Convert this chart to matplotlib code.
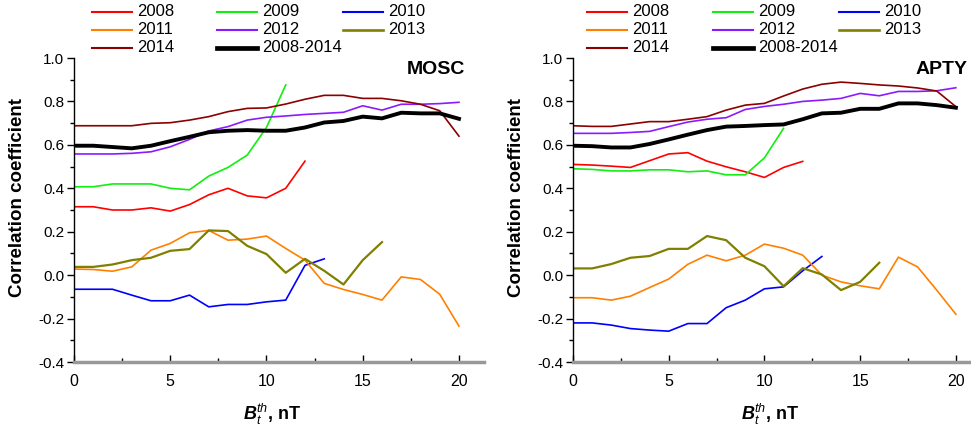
"""
Correlation coefficient vs B_t threshold, MOSC and APTY
"""

import matplotlib
matplotlib.use("Agg")
import matplotlib.pyplot as plt
from matplotlib.lines import Line2D
from matplotlib.ticker import MultipleLocator, FormatStrFormatter

plt.rcParams['font.family'] = ['Liberation Sans', 'DejaVu Sans']
plt.rcParams['mathtext.fontset'] = 'custom'
plt.rcParams['mathtext.rm'] = 'Liberation Sans'
plt.rcParams['mathtext.it'] = 'Liberation Sans:italic'
plt.rcParams['mathtext.bf'] = 'Liberation Sans:bold'
plt.rcParams['mathtext.bfit'] = 'Liberation Sans:italic:bold'

# Labels / colours
LABELS = ["2008", "2009", "2010", "2011", "2012", "2013", "2014", "2008-2014"]
COLORS = ["#ff0000", "#11ee11", "#0000ff", "#ff8000", "#8c1aff", "#808000", "#8b0000", "#000000"]
WIDTHS = [1.2, 1.2, 1.2, 1.2, 1.2, 1.6, 1.2, 2.8]

# MOSC station
mosc_2008 = [0.315, 0.315, 0.30, 0.30, 0.31, 0.295, 0.325, 0.37, 0.40, 0.365, 0.356, 0.40, 0.525]
mosc_2009 = [0.407, 0.407, 0.42, 0.42, 0.42, 0.40, 0.393, 0.456, 0.496, 0.553, 0.68, 0.876]
mosc_2010 = [-0.065, -0.065, -0.065, -0.092, -0.118, -0.118, -0.092, -0.146, -0.135, -0.135,
             -0.123, -0.115, 0.045, 0.075]
mosc_2011 = [0.028, 0.026, 0.018, 0.038, 0.115, 0.146, 0.195, 0.206, 0.161, 0.166, 0.18,
             0.123, 0.069, -0.038, -0.066, -0.089, -0.115, -0.008, -0.02, -0.088, -0.235]
mosc_2012 = [0.558, 0.558, 0.558, 0.561, 0.568, 0.591, 0.625, 0.664, 0.684, 0.714, 0.727,
             0.733, 0.74, 0.745, 0.75, 0.78, 0.76, 0.787, 0.787, 0.79, 0.796]
mosc_2013 = [0.038, 0.038, 0.049, 0.069, 0.08, 0.112, 0.12, 0.206, 0.203, 0.135, 0.097,
             0.011, 0.075, 0.02, -0.043, 0.069, 0.152]
mosc_2014 = [0.688, 0.688, 0.688, 0.688, 0.699, 0.702, 0.714, 0.73, 0.753, 0.768, 0.77,
             0.788, 0.81, 0.828, 0.828, 0.814, 0.814, 0.803, 0.787, 0.757, 0.64]
mosc_all = [0.596, 0.596, 0.59, 0.584, 0.596, 0.617, 0.637, 0.658, 0.665, 0.668, 0.665,
            0.665, 0.68, 0.703, 0.71, 0.73, 0.722, 0.748, 0.745, 0.745, 0.72]

# APTY station
apty_2008 = [0.51, 0.507, 0.502, 0.496, 0.527, 0.558, 0.564, 0.525, 0.499, 0.476, 0.45, 0.496, 0.524]
apty_2009 = [0.49, 0.487, 0.48, 0.48, 0.485, 0.485, 0.476, 0.48, 0.462, 0.462, 0.54, 0.676]
apty_2010 = [-0.22, -0.22, -0.23, -0.246, -0.253, -0.258, -0.223, -0.223, -0.15, -0.115,
             -0.063, -0.054, 0.02, 0.086]
apty_2011 = [-0.104, -0.104, -0.115, -0.097, -0.057, -0.018, 0.05, 0.092, 0.066, 0.092, 0.143,
             0.124, 0.092, 0.0, -0.031, -0.049, -0.063, 0.083, 0.038, -0.069, -0.18]
apty_2012 = [0.653, 0.653, 0.653, 0.657, 0.662, 0.684, 0.705, 0.718, 0.725, 0.763, 0.777,
             0.787, 0.80, 0.806, 0.814, 0.837, 0.826, 0.846, 0.846, 0.849, 0.863]
apty_2013 = [0.031, 0.031, 0.051, 0.08, 0.088, 0.121, 0.121, 0.18, 0.161, 0.08, 0.041,
             -0.051, 0.032, 0.003, -0.069, -0.031, 0.057]
apty_2014 = [0.688, 0.685, 0.685, 0.696, 0.707, 0.707, 0.718, 0.73, 0.76, 0.783, 0.791,
             0.825, 0.857, 0.879, 0.889, 0.883, 0.876, 0.871, 0.862, 0.848, 0.776]
apty_all = [0.596, 0.594, 0.588, 0.588, 0.604, 0.625, 0.647, 0.668, 0.684, 0.687, 0.691,
            0.694, 0.718, 0.745, 0.748, 0.766, 0.766, 0.791, 0.791, 0.783, 0.771]

MOSC = [mosc_2008, mosc_2009, mosc_2010, mosc_2011, mosc_2012, mosc_2013, mosc_2014, mosc_all]
APTY = [apty_2008, apty_2009, apty_2010, apty_2011, apty_2012, apty_2013, apty_2014, apty_all]

W, H = 971, 425


def draw_panel(fig, rect, series, station, xmax, title_x):
    ax = fig.add_axes(rect)
    for ys, c, lw in zip(series, COLORS, WIDTHS):
        ax.plot(range(len(ys)), ys, color=c, lw=lw, solid_joinstyle='round')

    ax.set_xlim(0, xmax)
    ax.set_ylim(-0.4, 1.0)
    ax.xaxis.set_major_locator(MultipleLocator(5))
    ax.xaxis.set_minor_locator(MultipleLocator(2.5))
    ax.yaxis.set_major_locator(MultipleLocator(0.2))
    ax.yaxis.set_minor_locator(MultipleLocator(0.1))
    ax.yaxis.set_major_formatter(FormatStrFormatter('%.1f'))

    for s in ('top', 'right'):
        ax.spines[s].set_visible(False)
    ax.spines['bottom'].set_color('#999999')
    ax.spines['bottom'].set_linewidth(2.5)
    ax.spines['left'].set_linewidth(1.0)

    ax.tick_params(axis='y', which='major', direction='out', length=5, width=1, labelsize=11, pad=2)
    ax.tick_params(axis='y', which='minor', direction='out', length=3, width=1)
    ax.tick_params(axis='x', which='major', direction='in', length=5, width=1, labelsize=11.5, pad=9)
    ax.tick_params(axis='x', which='minor', direction='in', length=3, width=1)

    ax.set_ylabel("Correlation coefficient", fontsize=13.5, fontweight='bold')
    ax.yaxis.set_label_coords(-48 / (rect[2] * W), 0.54)
    ax.set_xlabel(r"$\mathbfit{B}_{t}^{th}$, nT", fontsize=13, fontweight='bold')
    ax.xaxis.set_label_coords(10.3 / xmax, -0.13)

    ax.text(title_x, 0.99, station, transform=ax.get_xaxis_transform(), ha='right', va='top',
            fontsize=14, fontweight='bold')
    return ax


def draw_legend(fig, x_cols, rows_y):
    # row-major, three columns
    for i, (lab, c, lw) in enumerate(zip(LABELS, COLORS, WIDTHS)):
        r, col = divmod(i, 3)
        x0 = x_cols[col]
        y = 1 - rows_y[r] / H
        fig.add_artist(Line2D([x0 / W, (x0 + 40) / W], [y, y], color=c,
                              lw=lw + (0.6 if lw > 2 else 0.3), transform=fig.transFigure))
        fig.text((x0 + 45) / W, y, lab, fontsize=12, va='center', ha='left')


def main():
    fig = plt.figure(figsize=(W / 100, H / 100), dpi=100)

    left_rect = [74 / W, 63 / H, 410 / W, 304 / H]
    right_rect = [573 / W, 63 / H, 402 / W, 304 / H]
    draw_panel(fig, left_rect, MOSC, "MOSC", 21.3, 20.3)
    draw_panel(fig, right_rect, APTY, "APTY", 21.0, 20.6)

    draw_legend(fig, [92, 217, 343], [12, 30, 48])
    draw_legend(fig, [587, 713, 839], [12, 30, 48])

    fig.savefig("out.png", dpi=100)


if __name__ == "__main__":
    main()
